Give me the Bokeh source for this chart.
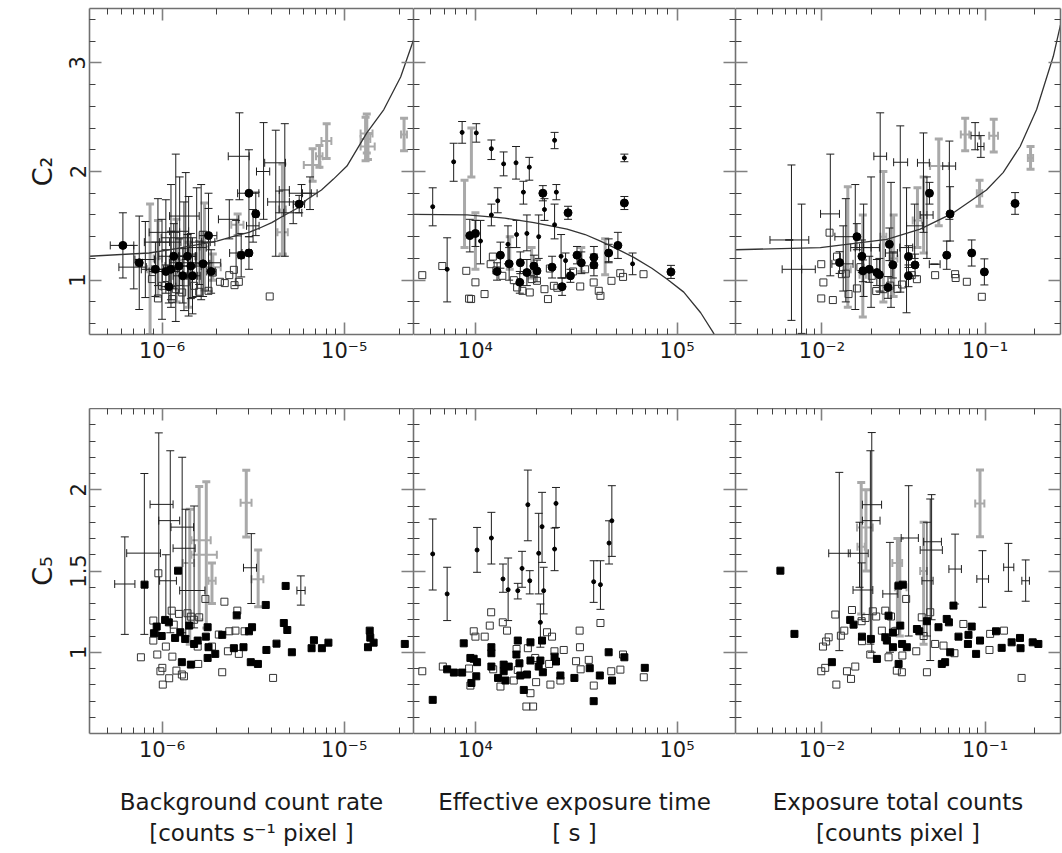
from bokeh.plotting import figure
from bokeh.models import (ColumnDataSource, Whisker, TeeHead, Range1d, FixedTicker,
                          LinearAxis, LogAxis)
from bokeh.layouts import row, column
from bokeh.embed import file_html
from bokeh.resources import INLINE

# ---------------- ticks ----------------
a_major = [1e-6, 1e-5]
a_minor = [5e-7, 6e-7, 7e-7, 8e-7, 9e-7, 2e-6, 3e-6, 4e-6, 5e-6, 6e-6, 7e-6, 8e-6, 9e-6, 2e-5]
a_labels = {1e-6: "10\u207b\u2076", 1e-5: "10\u207b\u2075"}
b_major = [1e4, 1e5]
b_minor = [6e3, 7e3, 8e3, 9e3, 2e4, 3e4, 4e4, 5e4, 6e4, 7e4, 8e4, 9e4]
b_labels = {1e4: "10\u2074", 1e5: "10\u2075"}
c_major = [1e-2, 1e-1]
c_minor = [4e-3, 5e-3, 6e-3, 7e-3, 8e-3, 9e-3, 2e-2, 3e-2, 4e-2, 5e-2, 6e-2, 7e-2, 8e-2, 9e-2, 2e-1]
c_labels = {1e-2: "10\u207b\u00b2", 1e-1: "10\u207b\u00b9"}
top_y_major = [1, 2, 3]
top_y_minor = [0.6, 0.8, 1.2, 1.4, 1.6, 1.8, 2.2, 2.4, 2.6, 2.8, 3.2, 3.4]
top_y_labels = {1: "1", 2: "2", 3: "3"}
bot_y_major = [1, 1.5, 2]
bot_y_minor = [0.6, 0.7, 0.8, 0.9, 1.1, 1.2, 1.3, 1.4, 1.6, 1.7, 1.8, 1.9, 2.1, 2.2, 2.3, 2.4]
bot_y_labels = {1: "1", 1.5: "1.5", 2: "2"}

x_titles = ["Background count rate\n[counts s\u207b\u00b9 pixel ]",
            "Effective exposure time\n[ s ]",
            "Exposure total counts\n[counts pixel ]"]
y_titles = ["C\u2082", "C\u2085"]

# ---------------- top-left: C2 vs background count rate ----------------
a_curve_x = [4.0e-7, 8.5e-7, 1.2e-6, 1.6e-6, 2.0e-6, 2.44e-6, 3.0e-6, 3.44e-6, 4.0e-6, 4.62e-6,
             5.5e-6, 6.22e-6, 7.5e-6, 8.73e-6, 1.035e-5, 1.33e-5, 1.65e-5, 2.04e-5, 2.40e-5]
a_curve_y = [1.22, 1.25, 1.29, 1.33, 1.36, 1.40, 1.44, 1.48, 1.53, 1.59,
             1.66, 1.74, 1.83, 1.93, 2.05, 2.355, 2.57, 2.87, 3.21]
a_fill_x = [6.1e-7, 7.5e-7, 9.2e-7, 1.09e-6, 1.05e-6, 1.16e-6, 1.24e-6, 1.38e-6, 1.44e-6, 1.47e-6,
            1.68e-6, 1.80e-6, 1.86e-6, 2.72e-6, 3.00e-6, 3.00e-6, 3.27e-6, 5.66e-6, 1.30e-6, 1.12e-6]
a_fill_y = [1.32, 1.16, 1.10, 0.94, 1.08, 1.22, 1.13, 1.22, 1.13, 1.04,
            1.15, 1.41, 1.08, 1.23, 1.25, 1.80, 1.61, 1.70, 1.04, 1.10]
a_fill_dy = [0.30, 0.43, 0.25, 0.15, 0.20, 0.30, 0.25, 0.20, 0.30, 0.20,
             0.30, 0.25, 0.20, 0.20, 0.15, 0.40, 0.20, 0.08, 0.25, 0.35]
a_fill_dx = [0.9e-7, 0.3e-7, 1.5e-7, 1.0e-7, 2.0e-7, 2.0e-7, 2.0e-7, 1.5e-7, 2.0e-7, 1.0e-7,
             1.5e-7, 2.0e-7, 1.0e-7, 1.0e-7, 1.0e-7, 4.0e-7, 1.0e-7, 4.0e-7, 1.5e-7, 1.0e-7]
a_blk_x = [1.00e-6, 1.12e-6, 1.19e-6, 1.32e-6, 1.40e-6, 1.64e-6, 1.80e-6, 2.66e-6, 3.61e-6, 4.21e-6,
           4.72e-6, 5.83e-6, 6.49e-6, 2.34e-6, 1.60e-6, 1.35e-6, 1.05e-6, 8.1e-7, 3.16e-6, 5.25e-6,
           1.47e-6, 9.5e-7, 1.25e-6, 1.55e-6, 2.55e-6, 7.0e-7, 4.4e-6]
a_blk_y = [1.10, 1.35, 1.39, 1.22, 1.22, 1.35, 1.35, 2.14, 2.00, 2.08,
           1.83, 1.80, 1.80, 1.56, 1.16, 1.59, 1.44, 1.19, 1.50, 1.62,
           1.04, 1.35, 1.45, 1.30, 1.25, 1.12, 1.72]
a_blk_ylo = [0.64, 0.82, 0.62, 0.72, 0.67, 0.82, 0.90, 1.74, 1.56, 1.22,
             1.22, 1.72, 1.65, 1.38, 0.96, 1.19, 1.14, 0.84, 1.35, 1.52,
             0.69, 0.95, 0.95, 0.85, 0.95, 0.92, 1.62]
a_blk_yhi = [1.56, 1.88, 2.16, 1.72, 1.77, 1.88, 1.80, 2.54, 2.45, 2.38,
             2.44, 1.88, 1.95, 1.74, 1.36, 1.99, 1.74, 1.54, 1.65, 1.72,
             1.39, 1.75, 1.95, 1.85, 1.55, 1.32, 1.82]
a_blk_xlo = [8.8e-7, 9.7e-7, 9.9e-7, 1.12e-6, 1.25e-6, 1.44e-6, 1.65e-6, 2.31e-6, 3.3e-6, 3.66e-6,
             4.4e-6, 5.0e-6, 5.9e-6, 2.04e-6, 1.10e-6, 1.10e-6, 8.5e-7, 7.1e-7, 2.91e-6, 4.65e-6,
             1.32e-6, 8.0e-7, 1.10e-6, 1.40e-6, 2.35e-6, 5.8e-7, 3.8e-6]
a_blk_xhi = [1.12e-6, 1.27e-6, 1.39e-6, 1.52e-6, 1.55e-6, 1.84e-6, 1.95e-6, 3.01e-6, 3.9e-6, 4.76e-6,
             5.0e-6, 6.6e-6, 7.1e-6, 2.64e-6, 2.10e-6, 1.60e-6, 1.25e-6, 9.1e-7, 3.41e-6, 5.85e-6,
             1.62e-6, 1.10e-6, 1.40e-6, 1.75e-6, 2.75e-6, 8.2e-7, 5.0e-6]
a_gry_x = [8.6e-7, 1.71e-6, 4.58e-6, 4.60e-6, 6.71e-6, 7.31e-6, 8.01e-6, 1.33e-5, 1.35e-5, 1.31e-5,
           2.13e-5, 2.60e-6, 1.90e-6, 1.20e-6, 9.5e-7, 1.40e-6]
a_gry_y = [1.10, 1.31, 1.65, 1.44, 2.06, 2.14, 2.28, 2.35, 2.23, 2.30, 2.34, 1.51, 1.12, 1.18, 1.20, 1.05]
a_gry_ylo = [0.50, 0.91, 1.23, 1.24, 1.91, 2.04, 2.12, 2.17, 2.11, 2.10, 2.19, 1.41, 1.00, 0.80, 0.85, 0.75]
a_gry_yhi = [1.70, 1.71, 2.07, 1.64, 2.21, 2.24, 2.44, 2.53, 2.35, 2.50, 2.49, 1.61, 1.24, 1.56, 1.55, 1.35]
a_gry_xlo = [8.3e-7, 1.61e-6, 4.38e-6, 4.3e-6, 6.0e-6, 7.0e-6, 7.5e-6, 1.23e-5, 1.23e-5, 1.23e-5,
             2.05e-5, 2.4e-6, 1.7e-6, 1.1e-6, 9.0e-7, 1.3e-6]
a_gry_xhi = [8.9e-7, 1.81e-6, 4.78e-6, 4.9e-6, 7.4e-6, 7.6e-6, 8.5e-6, 1.43e-5, 1.47e-5, 1.39e-5,
             2.21e-5, 2.8e-6, 2.1e-6, 1.3e-6, 1.0e-6, 1.5e-6]
a_open_x = [9.5e-7, 1.14e-6, 1.29e-6, 1.6e-6, 1.8e-6, 2.08e-6, 2.21e-6, 2.34e-6, 2.48e-6, 2.64e-6,
            2.5e-6, 3.9e-6, 1.0e-6, 1.19e-6, 1.5e-6, 1.9e-6, 8.8e-7, 1.35e-6, 1.05e-6]
a_open_y = [0.832, 0.826, 0.887, 0.893, 0.902, 0.985, 0.973, 1.046, 1.095, 0.985,
            0.954, 0.85, 0.948, 0.917, 0.948, 1.07, 1.01, 0.98, 1.02]

# ---------------- top-middle: C2 vs effective exposure time ----------------
b_curve_x = [4930, 9100, 14000, 19500, 28500, 35000, 41700, 50000, 61000, 75000, 89100, 108000, 131000, 151000, 155000]
b_curve_y = [1.605, 1.60, 1.57, 1.53, 1.47, 1.42, 1.36, 1.29, 1.21, 1.11, 1.01, 0.89, 0.70, 0.52, 0.48]
b_fill_x = [9380, 10000, 13300, 14700, 16700, 16600, 18000, 19500, 20200, 21600,
            26900, 28800, 29600, 31900, 33500, 38700, 38700, 45800, 50900, 54800,
            93300, 12800, 24000]
b_fill_y = [1.41, 1.43, 1.23, 1.15, 1.16, 0.98, 1.07, 1.13, 1.085, 1.80,
            0.94, 1.62, 1.04, 1.23, 1.16, 1.21, 1.14, 1.25, 1.32, 1.71,
            1.076, 1.08, 1.12]
b_fill_dy = [0.15, 0.12, 0.12, 0.15, 0.10, 0.10, 0.12, 0.10, 0.10, 0.07,
             0.08, 0.06, 0.06, 0.08, 0.10, 0.10, 0.10, 0.08, 0.12, 0.06,
             0.06, 0.08, 0.10]
b_dot_x = [6140, 7240, 7800, 8590, 10100, 12000, 13800, 15900, 18500, 17300,
           12900, 24700, 25200, 24700, 54800, 12000, 26600, 60200, 45800, 20600,
           22000, 18000, 14500, 10600, 16000, 28000]
b_dot_y = [1.676, 1.10, 2.089, 2.36, 2.355, 2.21, 2.07, 2.08, 2.04, 1.81,
           1.73, 2.287, 1.81, 1.51, 2.125, 1.60, 1.22, 1.15, 1.24, 1.40,
           1.65, 1.43, 1.33, 1.36, 1.42, 1.18]
b_dot_lo = [1.50, 0.80, 1.91, 2.26, 2.27, 2.11, 1.96, 1.93, 1.92, 1.70,
            1.62, 2.21, 1.74, 1.38, 2.09, 1.50, 1.02, 1.05, 1.16, 1.20,
            1.55, 1.27, 1.15, 1.15, 1.30, 1.02]
b_dot_hi = [1.85, 1.39, 2.26, 2.46, 2.44, 2.29, 2.18, 2.23, 2.13, 1.91,
            1.85, 2.36, 1.88, 1.70, 2.16, 1.70, 1.42, 1.25, 1.38, 1.60,
            1.75, 1.60, 1.50, 1.55, 1.55, 1.25]
b_gry_x = [9550, 8830, 10000, 14800, 19000, 33500, 44000]
b_gry_lo = [1.95, 1.30, 1.10, 1.10, 1.02, 1.08, 1.05]
b_gry_hi = [2.40, 1.92, 1.62, 1.40, 1.30, 1.30, 1.38]
b_open_x = [5450, 6850, 9010, 10000, 9520, 9300, 11100, 11900, 12200, 13600,
            16100, 17100, 18600, 20200, 22000, 22900, 24500, 25500, 23400, 33100,
            38600, 40900, 41700, 47300, 52300, 54000, 68200, 30500, 35000, 15500,
            12700, 19000]
b_open_y = [1.046, 1.13, 1.086, 0.98, 0.826, 0.83, 0.872, 1.147, 1.217, 1.04,
            0.933, 0.902, 0.887, 0.994, 0.917, 0.826, 0.948, 0.93, 1.107, 0.942,
            0.979, 0.902, 0.856, 0.994, 1.064, 1.03, 1.055, 1.08, 1.10, 1.00,
            1.09, 1.01]

# ---------------- top-right: C2 vs exposure total counts ----------------
c_curve_x = [0.00295, 0.00977, 0.025, 0.04, 0.064, 0.102, 0.129, 0.164, 0.207, 0.262, 0.29]
c_curve_y = [1.28, 1.30, 1.376, 1.47, 1.62, 1.83, 1.99, 2.23, 2.57, 3.06, 3.35]
c_fill_x = [0.01282, 0.01637, 0.01757, 0.01783, 0.0217, 0.0254, 0.0259, 0.0272, 0.0339, 0.0339,
            0.0372, 0.0456, 0.061, 0.0582, 0.0828, 0.099, 0.1527, 0.0195, 0.0225]
c_fill_y = [1.162, 1.40, 1.22, 1.086, 1.07, 0.933, 1.33, 1.14, 1.217, 1.04,
            1.14, 1.80, 1.61, 1.23, 1.25, 1.076, 1.706, 1.10, 1.05]
c_fill_dy = [0.10, 0.12, 0.15, 0.10, 0.12, 0.10, 0.15, 0.12, 0.10, 0.10,
             0.10, 0.10, 0.25, 0.13, 0.12, 0.12, 0.10, 0.12, 0.15]
c_blk_x = [0.0065, 0.0063, 0.0075, 0.01125, 0.0160, 0.02275, 0.0302, 0.0419, 0.0604, 0.0869,
           0.0942, 0.049, 0.037, 0.0140, 0.0200, 0.0265, 0.0330, 0.0180, 0.044, 0.0135]
c_blk_y = [1.10, 1.37, 1.10, 1.61, 1.30, 2.14, 2.085, 2.08, 2.05, 2.33,
           2.23, 1.147, 1.50, 1.40, 1.30, 1.25, 1.30, 1.30, 1.60, 1.15]
c_blk_ylo = [0.63, 1.37, 0.51, 1.04, 0.73, 0.89, 0.89, 1.44, 1.56, 2.20,
             2.13, 1.147, 1.20, 0.80, 0.75, 0.75, 0.70, 0.85, 1.20, 0.90]
c_blk_yhi = [2.06, 1.37, 1.70, 2.16, 1.88, 2.54, 2.42, 2.355, 2.28, 2.45,
             2.33, 1.147, 1.70, 1.75, 1.95, 1.90, 1.85, 1.70, 1.95, 1.50]
c_blk_xlo = [0.0057, 0.0048, 0.0075, 0.0098, 0.0150, 0.0208, 0.0275, 0.0385, 0.0550, 0.0820,
             0.0900, 0.0455, 0.0330, 0.0120, 0.0180, 0.0245, 0.0300, 0.0160, 0.0400, 0.0115]
c_blk_xhi = [0.0091, 0.0083, 0.0075, 0.0128, 0.0170, 0.0249, 0.0335, 0.0455, 0.0660, 0.0920,
             0.0985, 0.0530, 0.0415, 0.0160, 0.0225, 0.0290, 0.0360, 0.0200, 0.0480, 0.0155]
c_gry_x = [0.0144, 0.0178, 0.0238, 0.042, 0.052, 0.0755, 0.113, 0.19, 0.0925, 0.0275, 0.0385]
c_gry_y = [1.10, 1.05, 1.40, 1.60, 2.05, 2.34, 2.33, 2.125, 1.80, 1.20, 1.55]
c_gry_ylo = [0.75, 0.66, 0.80, 1.25, 1.50, 2.19, 2.18, 2.02, 1.68, 0.85, 1.30]
c_gry_yhi = [1.86, 1.60, 2.00, 1.95, 2.30, 2.49, 2.48, 2.23, 1.92, 1.60, 1.85]
c_gry_xlo = [0.0138, 0.0170, 0.0228, 0.040, 0.046, 0.0710, 0.106, 0.183, 0.089, 0.026, 0.036]
c_gry_xhi = [0.0150, 0.0186, 0.0248, 0.044, 0.060, 0.0800, 0.120, 0.197, 0.096, 0.029, 0.041]
c_open_x = [0.0099, 0.0102, 0.0099, 0.01166, 0.01113, 0.01236, 0.01325, 0.0140, 0.01455, 0.01637,
            0.0172, 0.0202, 0.0238, 0.0262, 0.029, 0.0355, 0.0382, 0.0494, 0.0655, 0.0660,
            0.0773, 0.0955, 0.0310, 0.0215]
c_open_y = [1.147, 0.979, 0.832, 0.817, 1.437, 1.217, 1.055, 1.06, 0.872, 0.924,
            1.12, 1.04, 0.917, 0.95, 0.92, 1.046, 1.009, 1.046, 1.055, 1.02,
            0.985, 0.847, 0.96, 0.90]

# ---------------- bottom-left: C5 vs background count rate ----------------
d_fill_x = [8.02e-7, 1.225e-6, 9.03e-7, 9.35e-7, 9.96e-7, 1.04e-6, 1.09e-6, 1.18e-6, 1.26e-6, 1.34e-6,
            1.285e-6, 1.44e-6, 1.50e-6, 1.57e-6, 1.41e-6, 1.74e-6, 1.78e-6, 1.80e-6, 1.78e-6, 1.96e-6,
            2.14e-6, 2.48e-6, 2.57e-6, 2.80e-6, 3.0e-6, 3.12e-6, 3.07e-6, 3.36e-6, 3.71e-6, 3.74e-6,
            4.25e-6, 4.66e-6, 4.87e-6, 4.77e-6, 5.16e-6, 6.62e-6, 6.82e-6, 7.54e-6, 8.19e-6, 1.35e-5,
            1.38e-5, 1.39e-5, 1.45e-5, 2.15e-5]
d_fill_y = [1.416, 1.502, 1.117, 1.158, 1.10, 1.199, 1.184, 1.088, 1.123, 1.082,
            0.939, 0.924, 1.051, 1.072, 1.164, 1.096, 1.154, 1.031, 0.965, 0.99,
            1.107, 1.025, 1.227, 1.031, 1.129, 1.154, 0.939, 0.928, 1.291, 1.014,
            1.053, 1.18, 1.137, 1.408, 1.0, 1.025, 1.074, 1.025, 1.059, 1.031,
            1.133, 1.09, 1.059, 1.051]
d_open_x = [7.66e-7, 8.96e-7, 8.96e-7, 9.42e-7, 9.55e-7, 1.004e-6, 1.01e-6, 9.8e-7, 1.05e-6, 1.095e-6,
            1.14e-6, 1.13e-6, 1.2e-6, 1.24e-6, 1.285e-6, 1.32e-6, 1.44e-6, 1.58e-6, 1.6e-6, 1.57e-6,
            1.73e-6, 1.88e-6, 2.05e-6, 2.14e-6, 2.2e-6, 2.3e-6, 2.34e-6, 2.53e-6, 2.59e-6, 2.64e-6,
            2.84e-6, 4.07e-6, 1.38e-6, 1.5e-6, 1.16e-6]
d_open_y = [0.969, 1.195, 1.072, 0.986, 1.486, 0.904, 0.801, 0.883, 1.035, 0.84,
            0.973, 1.256, 0.887, 1.236, 0.863, 0.852, 1.219, 0.928, 1.215, 1.035,
            1.328, 1.035, 1.109, 0.877, 1.311, 1.006, 1.129, 1.133, 1.256, 0.99,
            1.129, 0.842, 1.24, 1.20, 1.17]
d_blk_x = [6.25e-7, 8.0e-7, 9.6e-7, 1.11e-6, 1.29e-6, 1.35e-6, 1.05e-6, 1.50e-6, 3.09e-6, 5.78e-6]
d_blk_y = [1.42, 1.61, 1.91, 1.81, 1.77, 1.64, 1.44, 1.38, 1.52, 1.38]
d_blk_ylo = [1.11, 1.11, 1.10, 1.12, 1.12, 1.10, 1.20, 1.15, 1.30, 1.29]
d_blk_yhi = [1.71, 2.10, 2.35, 2.24, 2.20, 1.88, 1.60, 1.90, 1.73, 1.47]
d_blk_xlo = [5.5e-7, 6.4e-7, 8.6e-7, 9.6e-7, 1.12e-6, 1.15e-6, 9.7e-7, 1.25e-6, 2.80e-6, 5.5e-6]
d_blk_xhi = [7.1e-7, 9.8e-7, 1.15e-6, 1.25e-6, 1.49e-6, 1.52e-6, 1.20e-6, 1.72e-6, 3.30e-6, 6.1e-6]
d_gry_x = [1.60e-6, 1.75e-6, 1.88e-6, 2.90e-6, 3.37e-6, 1.42e-6]
d_gry_y = [1.69, 1.60, 1.44, 1.92, 1.45, 1.55]
d_gry_ylo = [1.20, 1.15, 1.30, 1.71, 1.28, 1.05]
d_gry_yhi = [2.02, 2.05, 1.55, 2.12, 1.63, 1.88]
d_gry_xlo = [1.45e-6, 1.45e-6, 1.80e-6, 2.70e-6, 3.10e-6, 1.30e-6]
d_gry_xhi = [1.85e-6, 2.00e-6, 1.97e-6, 3.10e-6, 3.60e-6, 1.50e-6]

# ---------------- bottom-middle: C5 vs effective exposure time ----------------
e_fill_x = [6140, 7240, 7820, 8590, 8750, 9440, 9800, 10190, 10100, 9550,
            12000, 12000, 12000, 12950, 13810, 13810, 14090, 14630, 15970, 16220,
            16530, 16700, 17370, 18030, 18750, 18750, 20600, 21000, 21400, 21600,
            24700, 25100, 26400, 30970, 36900, 38600, 41400, 45800, 47600, 54800,
            69200]
e_fill_y = [0.707, 0.895, 0.875, 0.875, 1.055, 0.965, 0.96, 0.939, 0.852, 0.811,
            1.031, 0.994, 0.912, 0.842, 0.924, 0.883, 0.826, 0.912, 0.986, 1.072,
            0.932, 0.857, 0.768, 0.863, 1.061, 0.949, 0.912, 0.949, 1.072, 0.877,
            0.973, 0.943, 0.857, 0.842, 0.902, 0.699, 0.857, 1.0, 0.826, 0.969,
            0.904]
e_open_x = [5450, 6890, 9810, 10000, 11120, 11780, 11970, 13670, 14350, 12250,
            13310, 9440, 15490, 16220, 16000, 18200, 18750, 17900, 19320, 19800,
            20000, 22650, 23990, 24660, 23200, 23550, 26400, 27420, 31560, 32880,
            33000, 33260, 36480, 38640, 41700, 47190, 52370, 53950, 68400, 9300]
e_open_y = [0.883, 0.912, 1.129, 1.096, 1.096, 1.164, 1.246, 1.184, 1.133, 0.895,
            0.789, 0.795, 0.826, 0.891, 1.02, 1.025, 0.748, 0.666, 0.666, 0.965,
            0.816, 1.123, 1.096, 1.006, 0.928, 0.801, 0.826, 1.014, 0.945, 1.133,
            1.031, 0.895, 0.953, 0.795, 1.18, 0.883, 0.893, 0.986, 0.846, 0.90]
e_dot_x = [6140, 7240, 10190, 12000, 13700, 14530, 16220, 17030, 18200, 18600,
           20600, 21400, 21800, 21000, 24700, 25100, 38600, 41700, 46000, 47500]
e_dot_y = [1.605, 1.359, 1.629, 1.703, 1.451, 1.385, 1.379, 1.516, 1.908, 1.44,
           1.609, 1.773, 1.379, 1.184, 1.635, 1.916, 1.434, 1.416, 1.672, 1.809]
e_dot_lo = [1.383, 1.195, 1.492, 1.543, 1.369, 1.195, 1.328, 1.40, 1.686, 1.359,
            1.359, 1.553, 1.236, 1.031, 1.502, 1.768, 1.307, 1.264, 1.543, 1.59]
e_dot_hi = [1.82, 1.523, 1.768, 1.861, 1.543, 1.58, 1.424, 1.621, 2.121, 1.502,
            1.855, 1.984, 1.523, 1.297, 1.764, 2.014, 1.563, 1.563, 1.809, 2.025]

# ---------------- bottom-right: C5 vs exposure total counts ----------------
f_fill_x = [0.00556, 0.00678, 0.0115, 0.01489, 0.01562, 0.01758, 0.01995, 0.02172, 0.02444, 0.0250,
            0.02559, 0.02722, 0.02722, 0.02945, 0.03131, 0.0302, 0.0310, 0.03313, 0.0295, 0.0382,
            0.0395, 0.0440, 0.0518, 0.0543, 0.0569, 0.0582, 0.0600, 0.0611, 0.064, 0.0687,
            0.0791, 0.0785, 0.0828, 0.0881, 0.0931, 0.1167, 0.1264, 0.1455, 0.1637, 0.165,
            0.1959, 0.2122]
f_fill_y = [1.502, 1.113, 0.939, 1.199, 1.17, 1.096, 1.082, 0.959, 1.092, 1.072,
            1.225, 1.121, 1.031, 1.41, 1.416, 1.164, 1.051, 1.031, 0.928, 1.143,
            1.129, 1.191, 1.154, 0.928, 0.939, 1.205, 1.184, 1.0, 1.287, 1.096,
            1.107, 1.051, 1.158, 0.99, 1.072, 1.129, 1.027, 1.061, 1.088, 1.025,
            1.061, 1.051]
f_open_x = [0.0099, 0.01047, 0.01014, 0.0106, 0.01099, 0.01225, 0.01207, 0.01306, 0.0137, 0.01423,
            0.01507, 0.01527, 0.016, 0.0175, 0.01758, 0.0185, 0.01977, 0.0205, 0.0215, 0.02329,
            0.02444, 0.02559, 0.0265, 0.02812, 0.02876, 0.0309, 0.0311, 0.03282, 0.03785, 0.0409,
            0.0420, 0.044, 0.0461, 0.0494, 0.0556, 0.0649, 0.0736, 0.1064, 0.1074, 0.1305,
            0.1675]
f_open_y = [0.883, 0.904, 1.035, 1.066, 1.092, 0.801, 1.232, 1.102, 1.133, 0.883,
            0.836, 1.26, 0.912, 1.191, 1.068, 1.211, 0.986, 1.252, 1.22, 1.133,
            1.256, 0.969, 1.22, 1.129, 0.887, 0.877, 0.98, 1.328, 1.006, 1.215,
            1.10, 0.877, 1.246, 1.051, 1.041, 0.994, 1.174, 1.014, 1.113, 1.133,
            0.842]
f_blk_x = [0.01277, 0.0202, 0.0198, 0.0261, 0.0340, 0.0461, 0.0470, 0.0440, 0.0655, 0.0964,
           0.139, 0.1774, 0.0175, 0.0170]
f_blk_y = [1.609, 1.908, 1.81, 1.359, 1.703, 1.629, 1.68, 1.44, 1.512, 1.451, 1.523, 1.44, 1.383, 1.609]
f_blk_ylo = [1.01, 1.00, 1.05, 1.00, 1.10, 0.949, 1.20, 1.10, 1.297, 1.277, 1.375, 1.314, 1.20, 1.40]
f_blk_yhi = [2.107, 2.352, 2.24, 1.676, 2.025, 1.943, 1.97, 1.80, 1.727, 1.625, 1.67, 1.568, 1.55, 1.80]
f_blk_xlo = [0.0110, 0.0177, 0.0177, 0.0236, 0.0306, 0.0400, 0.0420, 0.0410, 0.0600, 0.0890,
             0.130, 0.168, 0.0155, 0.0145]
f_blk_xhi = [0.0149, 0.0232, 0.0227, 0.0292, 0.0390, 0.0547, 0.0540, 0.0480, 0.0716, 0.1050,
             0.150, 0.187, 0.0205, 0.0192]
f_gry_x = [0.0174, 0.0186, 0.0300, 0.0290, 0.0931, 0.0420]
f_gry_y = [1.65, 1.768, 1.40, 1.55, 1.916, 1.50]
f_gry_ylo = [1.236, 1.50, 1.10, 1.15, 1.711, 1.05]
f_gry_yhi = [2.045, 2.0, 1.70, 1.70, 2.121, 1.80]
f_gry_xlo = [0.0165, 0.0164, 0.0280, 0.0270, 0.0870, 0.0400]
f_gry_xhi = [0.0183, 0.0205, 0.0330, 0.0310, 0.0990, 0.0440]

# ---------------- styling ----------------
FONT = "DejaVu Sans"
AXC = "#707070"
BLK = "#1e1e1e"
GRY = "#a9a9a9"


def style_axis(ax, major, minor, labels=None, orient=None):
    ax.ticker = FixedTicker(ticks=major, minor_ticks=minor)
    ax.axis_line_color = AXC
    ax.axis_line_width = 1.6
    ax.major_tick_in = 12
    ax.major_tick_out = 0
    ax.minor_tick_in = 6
    ax.minor_tick_out = 0
    ax.major_tick_line_color = "#808080"
    ax.major_tick_line_width = 1.6
    ax.minor_tick_line_color = "#404040"
    ax.minor_tick_line_width = 1
    if labels is not None:
        ax.major_label_overrides = labels
        ax.major_label_text_font = FONT
        ax.major_label_text_font_size = "21px"
        ax.major_label_text_color = "#1a1a1a"
        ax.major_label_standoff = 4
    else:
        ax.major_label_text_font_size = "1px"
        ax.major_label_text_alpha = 0
        ax.major_label_standoff = 0
    if orient:
        ax.major_label_orientation = orient


def whiskers(p, x, y, lo, hi, dim, color, lw, cap):
    if dim == "height":
        src = ColumnDataSource(dict(b=x, lo=lo, hi=hi))
    else:
        src = ColumnDataSource(dict(b=y, lo=lo, hi=hi))
    w = Whisker(source=src, base="b", lower="lo", upper="hi", dimension=dim,
                line_color=color, line_width=lw,
                upper_head=TeeHead(size=cap, line_color=color, line_width=lw),
                lower_head=TeeHead(size=cap, line_color=color, line_width=lw))
    p.add_layout(w)


def cross(p, x, y, ylo, yhi, xlo, xhi, color, lwv, lwh, cap):
    whiskers(p, x, y, ylo, yhi, "height", color, lwv, cap)
    whiskers(p, x, y, xlo, xhi, "width", color, lwh, cap)


def panel(xr, yr, xmaj, xmin, xlab, ymaj, ymin, ylab, fw, fh, bl, br, bt, bb,
          show_y, ytitle=None, xtitle=None):
    p = figure(x_axis_type="log", x_range=Range1d(*xr), y_range=Range1d(*yr),
               frame_width=fw, frame_height=fh,
               min_border_left=bl, min_border_right=br, min_border_top=bt, min_border_bottom=bb,
               output_backend="svg", toolbar_location=None)
    p.outline_line_color = None
    p.xgrid.visible = False
    p.ygrid.visible = False
    bottom_ax = p.below[0]
    left_ax = p.left[0]
    style_axis(bottom_ax, xmaj, xmin, xlab)
    style_axis(left_ax, ymaj, ymin, ylab if show_y else None, "vertical")
    if ytitle:
        left_ax.axis_label = ytitle
        left_ax.axis_label_text_font = FONT
        left_ax.axis_label_text_font_size = "27px"
        left_ax.axis_label_text_font_style = "normal"
        left_ax.axis_label_text_color = "#1a1a1a"
        left_ax.axis_label_standoff = 9
    if xtitle:
        bottom_ax.axis_label = xtitle
        bottom_ax.axis_label_text_font = FONT
        bottom_ax.axis_label_text_font_size = "23px"
        bottom_ax.axis_label_text_font_style = "normal"
        bottom_ax.axis_label_text_color = "#1a1a1a"
        bottom_ax.axis_label_standoff = 24
    top = LogAxis()
    style_axis(top, xmaj, xmin, None)
    p.add_layout(top, "above")
    right = LinearAxis()
    style_axis(right, ymaj, ymin, None)
    p.add_layout(right, "right")
    return p


TOP_Y = (0.5, 3.5)
BOT_Y = (0.5, 2.5)
XA = (4.0e-7, 2.4e-5)
XB = (4930, 1.95e5)
XC = (2.95e-3, 0.29)

pA = panel(XA, TOP_Y, a_major, a_minor, a_labels, top_y_major, top_y_minor, top_y_labels,
           324, 326, 89, 0, 8, 74, True, ytitle=y_titles[0])
pB = panel(XB, TOP_Y, b_major, b_minor, b_labels, top_y_major, top_y_minor, top_y_labels,
           322, 326, 0, 0, 8, 74, False)
pC = panel(XC, TOP_Y, c_major, c_minor, c_labels, top_y_major, top_y_minor, top_y_labels,
           325, 326, 0, 2, 8, 74, False)
pD = panel(XA, BOT_Y, a_major, a_minor, a_labels, bot_y_major, bot_y_minor, bot_y_labels,
           324, 325, 89, 0, 0, 118, True, ytitle=y_titles[1], xtitle=x_titles[0])
pE = panel(XB, BOT_Y, b_major, b_minor, b_labels, bot_y_major, bot_y_minor, bot_y_labels,
           322, 325, 0, 0, 0, 118, False, xtitle=x_titles[1])
pF = panel(XC, BOT_Y, c_major, c_minor, c_labels, bot_y_major, bot_y_minor, bot_y_labels,
           325, 325, 0, 2, 0, 118, False, xtitle=x_titles[2])

CAP = 8
OPEN_SIZE = 7

# --- top-left
cross(pA, a_gry_x, a_gry_y, a_gry_ylo, a_gry_yhi, a_gry_xlo, a_gry_xhi, GRY, 3, 2, CAP)
cross(pA, a_blk_x, a_blk_y, a_blk_ylo, a_blk_yhi, a_blk_xlo, a_blk_xhi, BLK, 1, 1, CAP)
cross(pA, a_fill_x, a_fill_y,
      [y - d for y, d in zip(a_fill_y, a_fill_dy)], [y + d for y, d in zip(a_fill_y, a_fill_dy)],
      [x - d for x, d in zip(a_fill_x, a_fill_dx)], [x + d for x, d in zip(a_fill_x, a_fill_dx)],
      BLK, 1, 1, CAP)
pA.line(a_curve_x, a_curve_y, line_color="#333333", line_width=1.3)
pA.scatter(a_open_x, a_open_y, marker="square", size=OPEN_SIZE, fill_color=None,
           line_color="#333333", line_width=1)
pA.scatter(a_fill_x, a_fill_y, marker="circle", size=8, color="black")

# --- top-middle
whiskers(pB, b_gry_x, None, b_gry_lo, b_gry_hi, "height", GRY, 3, CAP)
whiskers(pB, b_dot_x, None, b_dot_lo, b_dot_hi, "height", BLK, 1, CAP)
whiskers(pB, b_fill_x, None, [y - d for y, d in zip(b_fill_y, b_fill_dy)],
         [y + d for y, d in zip(b_fill_y, b_fill_dy)], "height", BLK, 1, CAP)
pB.line(b_curve_x, b_curve_y, line_color="#333333", line_width=1.3)
pB.scatter(b_open_x, b_open_y, marker="square", size=OPEN_SIZE, fill_color=None,
           line_color="#333333", line_width=1)
pB.scatter(b_dot_x, b_dot_y, marker="circle", size=4, color="black")
pB.scatter(b_fill_x, b_fill_y, marker="circle", size=8, color="black")

# --- top-right
cross(pC, c_gry_x, c_gry_y, c_gry_ylo, c_gry_yhi, c_gry_xlo, c_gry_xhi, GRY, 3, 2, CAP)
cross(pC, c_blk_x, c_blk_y, c_blk_ylo, c_blk_yhi, c_blk_xlo, c_blk_xhi, BLK, 1, 1, CAP)
whiskers(pC, c_fill_x, None, [y - d for y, d in zip(c_fill_y, c_fill_dy)],
         [y + d for y, d in zip(c_fill_y, c_fill_dy)], "height", BLK, 1, CAP)
pC.line(c_curve_x, c_curve_y, line_color="#333333", line_width=1.3)
pC.scatter(c_open_x, c_open_y, marker="square", size=OPEN_SIZE, fill_color=None,
           line_color="#333333", line_width=1)
pC.scatter(c_fill_x, c_fill_y, marker="circle", size=8, color="black")

# --- bottom-left
cross(pD, d_gry_x, d_gry_y, d_gry_ylo, d_gry_yhi, d_gry_xlo, d_gry_xhi, GRY, 3, 2, CAP)
cross(pD, d_blk_x, d_blk_y, d_blk_ylo, d_blk_yhi, d_blk_xlo, d_blk_xhi, BLK, 1, 1, CAP)
pD.scatter(d_open_x, d_open_y, marker="square", size=OPEN_SIZE, fill_color=None,
           line_color="#333333", line_width=1)
pD.scatter(d_fill_x, d_fill_y, marker="square", size=7, color="black")

# --- bottom-middle
whiskers(pE, e_dot_x, None, e_dot_lo, e_dot_hi, "height", BLK, 1, CAP)
pE.scatter(e_open_x, e_open_y, marker="square", size=OPEN_SIZE, fill_color=None,
           line_color="#333333", line_width=1)
pE.scatter(e_fill_x, e_fill_y, marker="square", size=7, color="black")
pE.scatter(e_dot_x, e_dot_y, marker="circle", size=4, color="black")

# --- bottom-right
cross(pF, f_gry_x, f_gry_y, f_gry_ylo, f_gry_yhi, f_gry_xlo, f_gry_xhi, GRY, 3, 2, CAP)
cross(pF, f_blk_x, f_blk_y, f_blk_ylo, f_blk_yhi, f_blk_xlo, f_blk_xhi, BLK, 1, 1, CAP)
pF.scatter(f_open_x, f_open_y, marker="square", size=OPEN_SIZE, fill_color=None,
           line_color="#333333", line_width=1)
pF.scatter(f_fill_x, f_fill_y, marker="square", size=7, color="black")

layout = column(row(pA, pB, pC, spacing=0), row(pD, pE, pF, spacing=0), spacing=0)

open("out.html", "w").write(file_html(layout, INLINE))
